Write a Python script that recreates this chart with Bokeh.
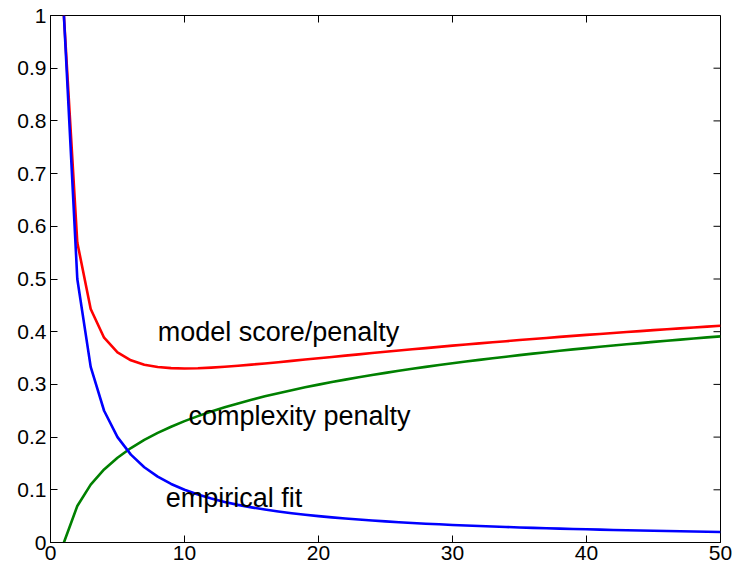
import math
from bokeh.plotting import figure
from bokeh.models import LinearAxis, FixedTicker, Range1d
from bokeh.core.properties import value
from bokeh.embed import file_html
from bokeh.resources import INLINE

x_vals = list(range(1, 51))
empirical_fit = [1.0000, 0.5000, 0.3333, 0.2500, 0.2000, 0.1667, 0.1429, 0.1250, 0.1111, 0.1000,
                 0.0909, 0.0833, 0.0769, 0.0714, 0.0667, 0.0625, 0.0588, 0.0556, 0.0526, 0.0500,
                 0.0476, 0.0455, 0.0435, 0.0417, 0.0400, 0.0385, 0.0370, 0.0357, 0.0345, 0.0333,
                 0.0323, 0.0313, 0.0303, 0.0294, 0.0286, 0.0278, 0.0270, 0.0263, 0.0256, 0.0250,
                 0.0244, 0.0238, 0.0233, 0.0227, 0.0222, 0.0217, 0.0213, 0.0208, 0.0204, 0.0200]
complexity_penalty = [0.0000, 0.0693, 0.1099, 0.1386, 0.1609, 0.1792, 0.1946, 0.2079, 0.2197, 0.2303,
                      0.2398, 0.2485, 0.2565, 0.2639, 0.2708, 0.2773, 0.2833, 0.2890, 0.2944, 0.2996,
                      0.3045, 0.3091, 0.3135, 0.3178, 0.3219, 0.3258, 0.3296, 0.3332, 0.3367, 0.3401,
                      0.3434, 0.3466, 0.3497, 0.3526, 0.3555, 0.3584, 0.3611, 0.3638, 0.3664, 0.3689,
                      0.3714, 0.3738, 0.3761, 0.3784, 0.3807, 0.3829, 0.3850, 0.3871, 0.3892, 0.3912]
model_score = [1.0000, 0.5693, 0.4432, 0.3886, 0.3609, 0.3458, 0.3374, 0.3329, 0.3308, 0.3303,
               0.3307, 0.3318, 0.3334, 0.3353, 0.3375, 0.3398, 0.3421, 0.3446, 0.3471, 0.3496,
               0.3521, 0.3546, 0.3570, 0.3595, 0.3619, 0.3643, 0.3666, 0.3689, 0.3712, 0.3735,
               0.3757, 0.3778, 0.3800, 0.3820, 0.3841, 0.3861, 0.3881, 0.3901, 0.3920, 0.3939,
               0.3957, 0.3976, 0.3994, 0.4011, 0.4029, 0.4046, 0.4063, 0.4080, 0.4096, 0.4112]

x_ticks = [0, 10, 20, 30, 40, 50]
x_labels = ["0", "10", "20", "30", "40", "50"]
y_ticks = [0, 0.1, 0.2, 0.3, 0.4, 0.5, 0.6, 0.7, 0.8, 0.9, 1]
y_labels = ["0", "0.1", "0.2", "0.3", "0.4", "0.5", "0.6", "0.7", "0.8", "0.9", "1"]

label_texts = ["model score/penalty", "complexity penalty", "empirical fit"]
label_x = [8.0, 10.3, 8.6]
label_y = [0.40, 0.24, 0.085]

FONT = "Liberation Sans"

p = figure(width=733, height=569, output_backend="svg", toolbar_location=None,
           x_range=Range1d(x_ticks[0], x_ticks[-1]), y_range=Range1d(y_ticks[0], y_ticks[-1]),
           min_border_left=50, min_border_right=13, min_border_top=15, min_border_bottom=27,
           x_axis_location=None, y_axis_location=None)
p.grid.visible = False
p.outline_line_color = "black"
p.outline_line_width = 1
p.background_fill_color = "white"
p.border_fill_color = "white"

def make_axis(ticks, labels, standoff):
    ax = LinearAxis(ticker=FixedTicker(ticks=ticks))
    ax.major_label_overrides = dict(zip(ticks, labels))
    ax.major_tick_in = 7
    ax.major_tick_out = 0
    ax.minor_tick_in = 0
    ax.minor_tick_out = 0
    ax.axis_line_color = "black"
    ax.major_tick_line_color = "black"
    ax.major_label_text_font = FONT
    ax.major_label_text_color = "black"
    ax.major_label_text_font_size = "21px"
    ax.major_label_standoff = standoff
    return ax

p.add_layout(make_axis(x_ticks, x_labels, 3), "below")
p.add_layout(make_axis(y_ticks, y_labels, 4), "left")

# inward ticks on the top and right edges of the box
p.ray(x=x_ticks, y=[y_ticks[-1]] * len(x_ticks), length=7, length_units="screen",
      angle=-math.pi / 2, line_color="black", line_width=1)
p.ray(x=[x_ticks[-1]] * len(y_ticks), y=y_ticks, length=7, length_units="screen",
      angle=math.pi, line_color="black", line_width=1)

for ys, col in ((model_score, "#ff0000"), (complexity_penalty, "#008000"),
                (empirical_fit, "#0000ff")):
    p.line(x_vals, ys, line_color=col, line_width=2.6, line_join="round")

p.text(x=label_x, y=label_y, text=label_texts, text_font=value(FONT),
       text_font_size="27px", text_color="black", text_align="left",
       text_baseline="middle")

open("out.html", "w").write(file_html(p, INLINE))
